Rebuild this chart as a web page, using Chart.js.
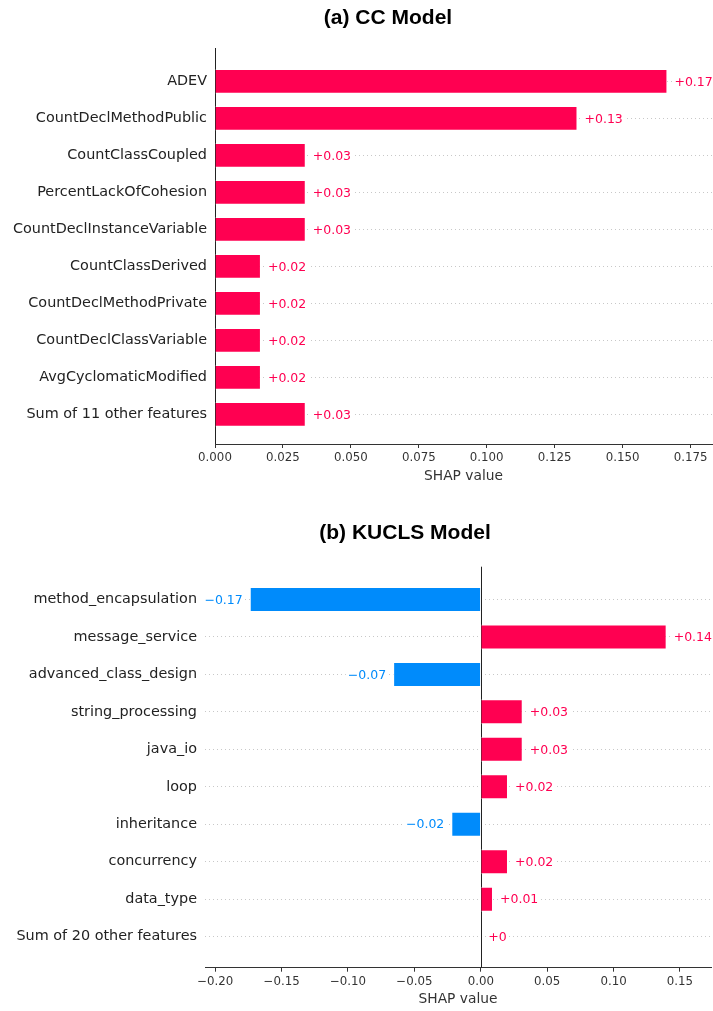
<!DOCTYPE html>
<html>
<head>
<meta charset="utf-8">
<script src="https://cdn.jsdelivr.net/npm/chart.js@4.4.1/dist/chart.umd.min.js"></script>
<style>
  body { margin: 0; background: #fff; width: 713px; height: 1011px; position: relative; overflow: hidden; }
  canvas { position: absolute; left: 0; }
  .title { position: absolute; font: bold 21px "Liberation Sans", Arial, sans-serif; line-height: 24px;
           white-space: nowrap; transform: translateX(-50%); color: #000; }
</style>
</head>
<body>
<canvas id="ccChart" width="713" height="500" style="top:0"></canvas>
<canvas id="kuclsChart" width="713" height="511" style="top:500px"></canvas>
<div class="title" style="left:388px;top:5px">(a) CC Model</div>
<div class="title" style="left:405px;top:520px">(b) KUCLS Model</div>
<script>
// (a) CC model - mean SHAP per feature
const ccFeatures = [
  'ADEV', 'CountDeclMethodPublic', 'CountClassCoupled', 'PercentLackOfCohesion',
  'CountDeclInstanceVariable', 'CountClassDerived', 'CountDeclMethodPrivate',
  'CountDeclClassVariable', 'AvgCyclomaticModified', 'Sum of 11 other features'
];
const ccValues = [0.1665, 0.1334, 0.0334, 0.0334, 0.0334, 0.0169, 0.0169, 0.0169, 0.0169, 0.0334];
const ccTicks = [0, 0.025, 0.05, 0.075, 0.1, 0.125, 0.15, 0.175];

// (b) KUCLS model
const kuclsFeatures = [
  'method_encapsulation', 'message_service', 'advanced_class_design', 'string_processing',
  'java_io', 'loop', 'inheritance', 'concurrency', 'data_type', 'Sum of 20 other features'
];
const kuclsValues = [-0.174, 0.140, -0.066, 0.0316, 0.0316, 0.0205, -0.0222, 0.0205, 0.0092, 0.0004];
const kuclsTicks = [-0.2, -0.15, -0.1, -0.05, 0, 0.05, 0.1, 0.15];

const RED = '#ff0051';
const BLUE = '#008bfb';
const FONT = '"DejaVu Sans", Verdana, sans-serif';

function signed(v) {
  const s = Math.abs(v).toFixed(2).replace(/\.?0+$/, '');
  return (v < 0 ? '\u2212' : '+') + s;
}

// vertical line at x = 0, under the bars
const zeroLine = {
  id: 'zeroLine',
  beforeDatasetsDraw(chart) {
    const { ctx, chartArea } = chart;
    const x = Math.round(chart.scales.x.getPixelForValue(0)) + 0.5;
    ctx.save();
    ctx.strokeStyle = '#222';
    ctx.lineWidth = 1;
    ctx.beginPath();
    ctx.moveTo(x, chartArea.top);
    ctx.lineTo(x, chartArea.bottom);
    ctx.stroke();
    ctx.restore();
  }
};

// "+0.17" style labels at the end of each bar
const valueLabels = {
  id: 'valueLabels',
  afterDatasetsDraw(chart) {
    const ctx = chart.ctx;
    const bars = chart.getDatasetMeta(0).data;
    const data = chart.data.datasets[0].data;
    ctx.save();
    ctx.font = '12.5px ' + FONT;
    ctx.textBaseline = 'middle';
    ctx.textAlign = 'left';
    bars.forEach((bar, i) => {
      const v = data[i].x;
      const txt = signed(v);
      const w = ctx.measureText(txt).width;
      const x = v < 0 ? bar.x - 7 - w : bar.x + 7;
      ctx.fillStyle = '#fff';
      ctx.fillRect(x - 2, bar.y - 7, w + 4, 14);
      ctx.fillStyle = v < 0 ? BLUE : RED;
      ctx.fillText(txt, x, bar.y + 1);
    });
    ctx.restore();
  }
};

function shapChart(id, features, values, ticks, o) {
  new Chart(document.getElementById(id), {
    type: 'bar',
    data: {
      datasets: [{
        data: values.map((v, i) => ({ x: v, y: i })),
        backgroundColor: values.map(v => v < 0 ? BLUE : RED),
        borderColor: 'rgba(255,255,255,0.8)',
        borderWidth: 1,
        barPercentage: 0.667,
        categoryPercentage: 1
      }]
    },
    options: {
      indexAxis: 'y',
      responsive: false,
      animation: false,
      events: [],
      layout: { padding: { top: o.top, right: o.right, left: 0, bottom: 0 } },
      plugins: { legend: { display: false }, tooltip: { enabled: false } },
      scales: {
        y: {
          type: 'linear',
          reverse: true,
          offset: false,
          min: o.yMin,
          max: o.yMax,
          afterBuildTicks: axis => { axis.ticks = features.map((f, i) => ({ value: i })); },
          afterFit: scale => { scale.width = o.left; },
          ticks: {
            callback: v => features[v],
            font: { family: FONT, size: 14.4 },
            color: '#222',
            padding: 8
          },
          grid: { offset: false, color: '#c8c8c8', lineWidth: 1, drawTicks: false },
          border: { display: false, dash: [1, 3] }
        },
        x: {
          type: 'linear',
          min: o.xMin,
          max: o.xMax,
          afterBuildTicks: axis => { axis.ticks = ticks.map(v => ({ value: v })); },
          afterFit: scale => { scale.height = o.axisH; },
          ticks: {
            callback: o.fmt,
            font: { family: FONT, size: 11.8 },
            color: '#333',
            padding: 3,
            maxRotation: 0
          },
          grid: { drawOnChartArea: false, drawTicks: true, tickLength: 4, tickColor: '#333', lineWidth: 1 },
          border: { display: true, color: '#333', width: 1 },
          title: {
            display: true,
            text: 'SHAP value',
            font: { family: FONT, size: 13.8 },
            color: '#333',
            padding: { top: 0, bottom: o.titlePad }
          }
        }
      }
    },
    plugins: [zeroLine, valueLabels]
  });
}

shapChart('ccChart', ccFeatures, ccValues, ccTicks, {
  xMin: 0, xMax: 0.1829, yMin: -0.9, yMax: 9.8,
  left: 215, right: 1, top: 48, axisH: 56, titlePad: 15,
  fmt: v => v.toFixed(3)
});

shapChart('kuclsChart', kuclsFeatures, kuclsValues, kuclsTicks, {
  xMin: -0.2077, xMax: 0.1734, yMin: -0.875, yMax: 9.83,
  left: 205, right: 2, top: 66.7, axisH: 43.3, titlePad: 3,
  fmt: v => (v < 0 ? '\u2212' : '') + Math.abs(v).toFixed(2)
});
</script>
</body>
</html>
